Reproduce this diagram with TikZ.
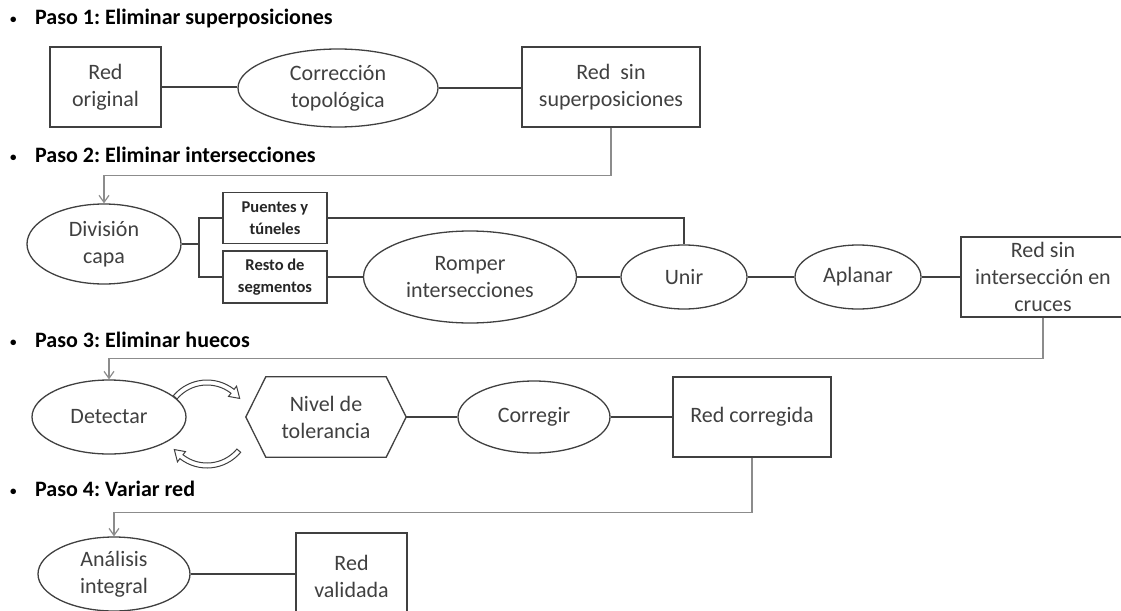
\documentclass[tikz,border=0pt]{standalone}
\usepackage{fontspec}
\setmainfont{Carlito}
\usetikzlibrary{calc,arrows.meta,shapes.geometric}
\definecolor{ln}{HTML}{404040}
\definecolor{gl}{HTML}{8C8C8C}
\definecolor{tx}{HTML}{404040}
\newcommand{\mybul}{\makebox[27pt][l]{\hspace{2pt}\raisebox{1pt}{\fontsize{13}{13}\selectfont •}}}
\begin{document}
\frenchspacing
\begin{tikzpicture}[x=1pt,y=-1pt,
  every node/.style={font=\fontsize{22}{27}\selectfont, text=tx, align=center, inner sep=0pt},
  box/.style={draw=ln, line width=1.3pt, rectangle},
  ell/.style={draw=ln, line width=1.3pt, ellipse},
  smallbox/.style={box, font=\fontsize{16.5}{22}\selectfont\bfseries, text=black!85},
  head/.style={anchor=base west, font=\fontsize{22}{26}\selectfont\bfseries, text=black},
  conn/.style={draw=ln, line width=1.3pt},
  garrow/.style={draw=gl, line width=1.2pt, -{Straight Barb[length=7pt,width=10pt]}},
  band/.style={draw=ln, line width=1pt, fill=white}
]
\useasboundingbox (0,0) rectangle (1121,610);

% headings
\node[head] (h1) at (8,25)  {\mybul Paso 1: Eliminar superposiciones};
\node[head] (h2) at (8,162) {\mybul Paso 2: Eliminar intersecciones};
\node[head] (h3) at (8,347) {\mybul Paso 3: Eliminar huecos};
\node[head] (h4) at (8,496) {\mybul Paso 4: Variar red};

% row 1
\node[box, minimum width=111pt, minimum height=80pt] (ro) at (105.5,87) {Red\\original};
\node[ell, minimum width=200pt, minimum height=78pt] (ct) at (338,88) {Corrección\\topológica};
\node[box, minimum width=178pt, minimum height=80pt] (rs) at (611,87) {Red\ \ sin\\superposiciones};
\draw[conn] (ro.east) -- (ro.east -| ct.west);
\draw[conn] (ct.east) -- (ct.east -| rs.west);

% row 2
\node[ell, minimum width=154pt, minimum height=80pt] (dc) at (104,244) {División\\capa};
\node[smallbox, minimum width=104pt, minimum height=51pt] (pt) at (275,218) {Puentes y\\túneles};
\node[smallbox, minimum width=104pt, minimum height=52pt] (rd) at (275,277) {Resto de\\segmentos};
\node[ell, minimum width=213pt, minimum height=92pt] (rm) at (470,277) {Romper\\intersecciones};
\node[ell, minimum width=126pt, minimum height=64pt] (un) at (684,277) {Unir};
\node[ell, minimum width=126pt, minimum height=64pt] (ap) at (858,277) {Aplanar};
\node[box, minimum width=164pt, minimum height=80pt] (rx) at (1043,277) {Red sin\\intersección en\\cruces};
\coordinate (br) at (199,244);
\draw[conn] (dc.east) -- (br);
\draw[conn] (pt.west) -| (br) |- (rd.west);
\draw[conn] (rd.east) -- (rm.west);
\draw[conn] (rm.east) -- (un.west);
\draw[conn] (un.east) -- (ap.west);
\draw[conn] (ap.east) -- (rx.west);
\draw[conn] (pt.east) -| (un.north);
\draw[garrow] (rs.south) -- ++(0,48) -| (dc.north);

% row 3
\node[ell, minimum width=154pt, minimum height=74pt] (de) at (109,417) {Detectar};
\node[minimum width=160pt, minimum height=80pt] (nv) at (326,417) {Nivel de\\tolerancia};
\draw[conn] (nv.west) -- ($(nv.north west)+(20,0)$) -- ($(nv.north east)+(-20,0)$) -- (nv.east)
  -- ($(nv.south east)+(-20,0)$) -- ($(nv.south west)+(20,0)$) -- cycle;
\node[ell, minimum width=152pt, minimum height=72pt] (co) at (534,417) {Corregir};
\node[box, minimum width=158pt, minimum height=80pt] (rc) at (752,417) {Red corregida};
\draw[conn] (nv.east) -- (co.west);
\draw[conn] (co.east) -- (rc.west);
\draw[garrow] (rx.south) -- ++(0,41) -| (de.north);

% curved block arrows
\coordinate (C) at (207,424);
\draw[band] ($(C)+(-140:44)$) arc[start angle=-140, end angle=-52, radius=44]
  -- ($(C)+(-52:48)$) -- ($(C)+(-38:41.5)$) -- ($(C)+(-52:35)$) -- ($(C)+(-52:39)$)
  arc[start angle=-52, end angle=-140, radius=39] -- cycle;
\draw[band] ($(C)+(40:44)$) arc[start angle=40, end angle=128, radius=44]
  -- ($(C)+(128:48)$) -- ($(C)+(142:41.5)$) -- ($(C)+(128:35)$) -- ($(C)+(128:39)$)
  arc[start angle=128, end angle=40, radius=39] -- cycle;

% row 4
\node[ell, minimum width=152pt, minimum height=74pt] (an) at (114,574) {Análisis\\integral};
\node[box, minimum width=111pt, minimum height=87pt] (rv) at (351.5,576.5) {Red\\validada};
\draw[conn] (an.east) -- (an.east -| rv.west);
\draw[garrow] (rc.south) -- ++(0,55) -| (an.north);
\end{tikzpicture}
\end{document}
